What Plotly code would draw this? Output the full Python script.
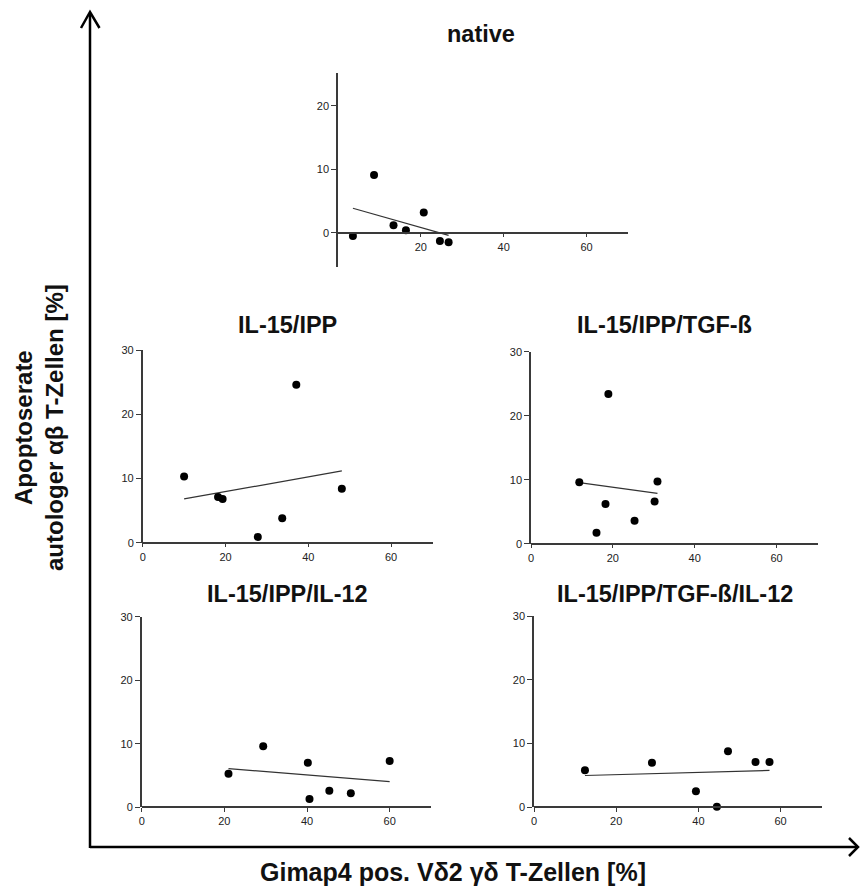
import numpy as np
import plotly.graph_objects as go

W, H = 861, 886

# ---------------- data ----------------
panel_titles = ["native", "IL-15/IPP", "IL-15/IPP/TGF-ß", "IL-15/IPP/IL-12", "IL-15/IPP/TGF-ß/IL-12"]

native_x = [3.6, 8.7, 13.4, 16.4, 20.7, 24.6, 26.7]
native_y = [-0.5, 9.1, 1.2, 0.4, 3.2, -1.3, -1.5]

ipp_x = [10.0, 18.2, 19.3, 27.8, 33.7, 37.1, 48.1]
ipp_y = [10.3, 7.1, 6.8, 0.9, 3.8, 24.6, 8.4]

tgf_x = [11.8, 18.9, 18.2, 16.0, 25.3, 30.2, 30.9]
tgf_y = [9.6, 23.4, 6.2, 1.7, 3.6, 6.6, 9.7]

il12_x = [21.0, 29.4, 40.2, 40.6, 45.4, 50.6, 60.0]
il12_y = [5.3, 9.6, 7.0, 1.3, 2.6, 2.2, 7.3]

tgfil12_x = [12.4, 28.7, 39.4, 44.5, 47.2, 53.9, 57.3]
tgfil12_y = [5.8, 7.0, 2.5, 0.1, 8.8, 7.1, 7.1]

native_xticks = [20, 40, 60]
native_yticks = [0, 10, 20]
other_xticks = [0, 20, 40, 60]
other_yticks = [0, 10, 20, 30]

x_title = "Gimap4 pos. Vδ2 γδ T-Zellen [%]"
y_title = "Apoptoserate<br>autologer αβ T-Zellen [%]"

# ---------------- layout helpers (pixel -> paper) ----------------
def px(x):
    return x / W

def py(y):
    return 1 - y / H

FONT = "Liberation Sans, Arial, sans-serif"

panels = [
    dict(x=native_x, y=native_y, box=(338, 628, 267, 73), xr=[0, 70], yr=[-5.4, 25.2],
         xt=native_xticks, yt=native_yticks, xline=232.7, title_xy=(481, 34)),
    dict(x=ipp_x, y=ipp_y, box=(142.7, 432.5, 542.7, 350), xr=[0, 70], yr=[0, 30],
         xt=other_xticks, yt=other_yticks, xline=542.7, title_xy=(287, 325)),
    dict(x=tgf_x, y=tgf_y, box=(531, 817.5, 543.7, 351.7), xr=[0, 70], yr=[0, 30],
         xt=other_xticks, yt=other_yticks, xline=543.7, title_xy=(664, 325)),
    dict(x=il12_x, y=il12_y, box=(141.7, 431, 807.3, 616.7), xr=[0, 70], yr=[0, 30],
         xt=other_xticks, yt=other_yticks, xline=807.3, title_xy=(287, 594)),
    dict(x=tgfil12_x, y=tgfil12_y, box=(534, 821.7, 807.3, 616), xr=[0, 70], yr=[0, 30],
         xt=other_xticks, yt=other_yticks, xline=807.3, title_xy=(675, 594)),
]

fig = go.Figure()
layout = dict(
    width=W, height=H,
    margin=dict(l=0, r=0, t=0, b=0, pad=0, autoexpand=False),
    paper_bgcolor="white", plot_bgcolor="white",
    showlegend=False,
    font=dict(family=FONT, color="#111"),
)

annotations = []
AX_COLOR = "#3a3a3a"

for i, p in enumerate(panels):
    n = i + 1
    xa = "x" if n == 1 else f"x{n}"
    ya = "y" if n == 1 else f"y{n}"
    xl, xr_, yb, yt = p["box"]
    layout[f"xaxis{'' if n == 1 else n}"] = dict(
        domain=[px(xl), px(xr_)], range=p["xr"], anchor="free", position=py(p["xline"]),
        showgrid=False, zeroline=False, showline=True, linecolor=AX_COLOR, linewidth=1.5,
        ticks="outside", ticklen=4, tickwidth=1, tickcolor=AX_COLOR,
        tickvals=p["xt"], ticktext=[str(v) for v in p["xt"]],
        tickfont=dict(size=11, family=FONT, color="#222"), automargin=False,
    )
    layout[f"yaxis{'' if n == 1 else n}"] = dict(
        domain=[py(yb), py(yt)], range=p["yr"], anchor=xa,
        showgrid=False, zeroline=False, showline=True, linecolor=AX_COLOR, linewidth=1.5,
        ticks="outside", ticklen=5, tickwidth=1, tickcolor=AX_COLOR,
        tickvals=p["yt"], ticktext=[str(v) for v in p["yt"]],
        tickfont=dict(size=11, family=FONT, color="#222"), automargin=False,
    )
    xs = np.array(p["x"], dtype=float)
    ys = np.array(p["y"], dtype=float)
    slope, icpt = np.polyfit(xs, ys, 1)
    lx = np.array([xs.min(), xs.max()])
    fig.add_trace(go.Scatter(x=lx, y=slope * lx + icpt, mode="lines",
                             line=dict(color="#333", width=1.2), xaxis=xa, yaxis=ya,
                             hoverinfo="skip"))
    fig.add_trace(go.Scatter(x=xs, y=ys, mode="markers",
                             marker=dict(color="black", size=8), xaxis=xa, yaxis=ya,
                             cliponaxis=False))
    tx, ty = p["title_xy"]
    annotations.append(dict(text=f"<b>{panel_titles[i]}</b>", x=px(tx), y=py(ty),
                            xref="paper", yref="paper", showarrow=False,
                            xanchor="center", yanchor="middle",
                            font=dict(size=23.5, family=FONT, color="#111")))

annotations.append(dict(text=f"<b>{x_title}</b>", x=px(453), y=py(872), xref="paper", yref="paper",
                        showarrow=False, xanchor="center", yanchor="middle",
                        font=dict(size=25, family=FONT, color="#111")))
annotations.append(dict(text=f"<b>{y_title}</b>", x=px(39), y=py(428), xref="paper", yref="paper",
                        showarrow=False, xanchor="center", yanchor="middle", textangle=-90,
                        font=dict(size=24, family=FONT, color="#111")))
layout["annotations"] = annotations

shapes = []
lw = 2.5
shapes.append(dict(type="line", xref="paper", yref="paper", x0=px(90), y0=py(848), x1=px(90), y1=py(13),
                   line=dict(color="black", width=lw)))
shapes.append(dict(type="line", xref="paper", yref="paper", x0=px(90), y0=py(847), x1=px(857), y1=py(847),
                   line=dict(color="black", width=lw)))
shapes.append(dict(type="path", xref="paper", yref="paper",
                   path=f"M {px(81)},{py(28)} L {px(90)},{py(12)} L {px(99.5)},{py(28)}",
                   line=dict(color="black", width=lw)))
shapes.append(dict(type="path", xref="paper", yref="paper",
                   path=f"M {px(849)},{py(838)} L {px(858)},{py(847)} L {px(849)},{py(856)}",
                   line=dict(color="black", width=lw)))
layout["shapes"] = shapes

fig.update_layout(**layout)
fig.write_html(
    "out.html",
    config={"displayModeBar": False},
    post_script=(
        "document.documentElement.style.margin='0';document.documentElement.style.overflow='hidden';"
        "document.body.style.margin='0';document.body.style.padding='0';document.body.style.overflow='hidden';"
        "var gd=document.getElementById('{plot_id}');gd.style.position='fixed';gd.style.top='0px';gd.style.left='0px';"
    ),
)
